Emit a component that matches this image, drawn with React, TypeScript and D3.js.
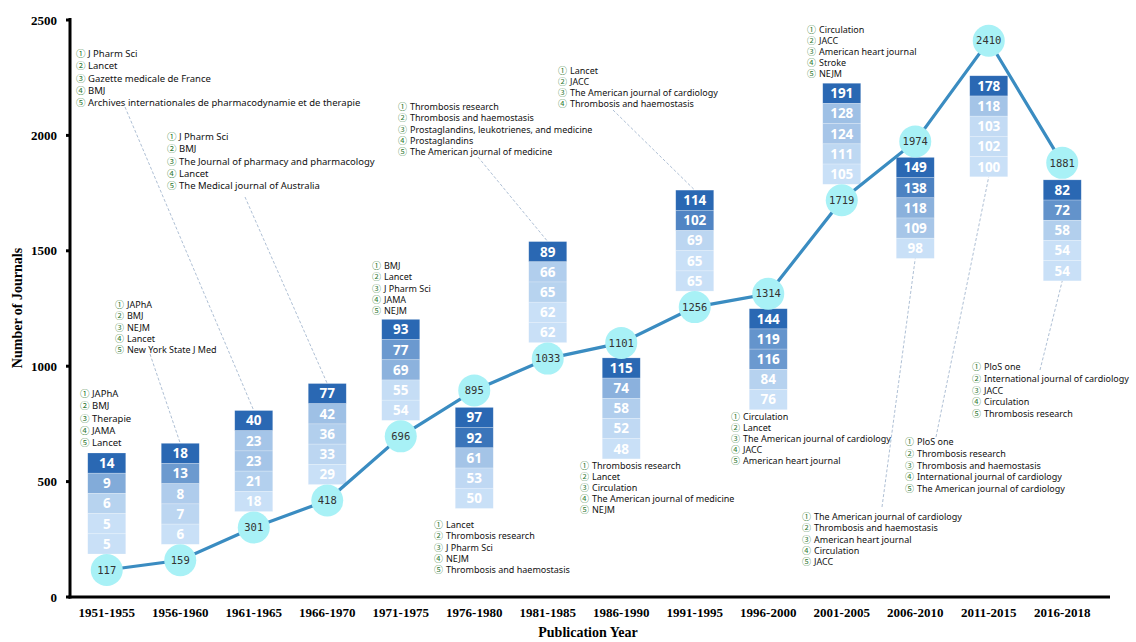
import React from "react";
import * as d3 from "d3";

const categories = [
  "1951-1955", "1956-1960", "1961-1965", "1966-1970", "1971-1975", "1976-1980", "1981-1985",
  "1986-1990", "1991-1995", "1996-2000", "2001-2005", "2006-2010", "2011-2015", "2016-2018",
];
const totals = [117, 159, 301, 418, 696, 895, 1033, 1101, 1256, 1314, 1719, 1974, 2410, 1881];
const topCounts = [
  [14, 9, 6, 5, 5],
  [18, 13, 8, 7, 6],
  [40, 23, 23, 21, 18],
  [77, 42, 36, 33, 29],
  [93, 77, 69, 55, 54],
  [97, 92, 61, 53, 50],
  [89, 66, 65, 62, 62],
  [115, 74, 58, 52, 48],
  [114, 102, 69, 65, 65],
  [144, 119, 116, 84, 76],
  [191, 128, 124, 111, 105],
  [149, 138, 118, 109, 98],
  [178, 118, 103, 102, 100],
  [82, 72, 58, 54, 54],
];
const topJournals = [
  ["JAPhA", "BMJ", "Therapie", "JAMA", "Lancet"],
  ["JAPhA", "BMJ", "NEJM", "Lancet", "New York State J Med"],
  ["J Pharm Sci", "Lancet", "Gazette medicale de France", "BMJ", "Archives internationales de pharmacodynamie et de therapie"],
  ["J Pharm Sci", "BMJ", "The Journal of pharmacy and pharmacology", "Lancet", "The Medical journal of Australia"],
  ["BMJ", "Lancet", "J Pharm Sci", "JAMA", "NEJM"],
  ["Lancet", "Thrombosis research", "J Pharm Sci", "NEJM", "Thrombosis and haemostasis"],
  ["Thrombosis research", "Thrombosis and haemostasis", "Prostaglandins, leukotrienes, and medicine", "Prostaglandins", "The American journal of medicine"],
  ["Thrombosis research", "Lancet", "Circulation", "The American journal of medicine", "NEJM"],
  ["Lancet", "JACC", "The American journal of cardiology", "Thrombosis and haemostasis"],
  ["Circulation", "Lancet", "The American journal of cardiology", "JACC", "American heart journal"],
  ["Circulation", "JACC", "American heart journal", "Stroke", "NEJM"],
  ["The American journal of cardiology", "Thrombosis and haemostasis", "American heart journal", "Circulation", "JACC"],
  ["PloS one", "Thrombosis research", "Thrombosis and haemostasis", "International journal of cardiology", "The American journal of cardiology"],
  ["PloS one", "International journal of cardiology", "JACC", "Circulation", "Thrombosis research"],
];
const yTicks = [0, 500, 1000, 1500, 2000, 2500];
const circled = ["\u2460", "\u2461", "\u2462", "\u2463", "\u2464"];

// layout (pixels) — kept separate from the data
const barSide = [-1, -1, -1, -1, -1, 1, -1, 1, -1, 1, -1, 1, 1, 1];
const barGap = [16, 16, 16, 16, 16, 17, 16, 15, 16, 15, 16, 16, 35, 17];
const listPos = [
  { x: 80, y: 394, sp: 12.1, fs: 10 },
  { x: 115, y: 305, sp: 11.3, fs: 9.5 },
  { x: 76, y: 54, sp: 12.1, fs: 10 },
  { x: 167, y: 137, sp: 12.1, fs: 10 },
  { x: 372, y: 266, sp: 11.2, fs: 9.5 },
  { x: 434, y: 525, sp: 11.3, fs: 9.5 },
  { x: 398, y: 107, sp: 11.3, fs: 9.5 },
  { x: 580, y: 466, sp: 11, fs: 9.5 },
  { x: 558, y: 71, sp: 11, fs: 9.5 },
  { x: 731, y: 417, sp: 11, fs: 9.5 },
  { x: 807, y: 30, sp: 11, fs: 9.5 },
  { x: 802, y: 517, sp: 11.3, fs: 9.5 },
  { x: 905, y: 442, sp: 11.7, fs: 9.5 },
  { x: 972, y: 367, sp: 11.7, fs: 9.5 },
];
const connectorStart: (number[] | null)[] = [
  null, [150, 354], [125, 107], [245, 197], null, null, [478, 157],
  null, [613, 110], null, null, [882, 507], [936, 437], [1040, 370],
];

const W = 1136;
const H = 642;
const x0 = 70;
const x1 = 1099;
const yBottom = 597;
const yTop = 20;
const cellH = 20.2;
const barW = 38;
const r = 16;

export default function App() {
  const x = d3.scaleBand<string>().domain(categories).range([x0, x1]).padding(0);
  const y = d3.scaleLinear().domain([0, 2500]).range([yBottom, yTop]);
  const cx = (i: number) => (x(categories[i]) as number) + x.bandwidth() / 2;

  const line = d3
    .line<number>()
    .x((_, i) => cx(i))
    .y((d) => y(d));

  const bars = categories.map((c, i) => {
    const vals = topCounts[i];
    const cy = y(totals[i]);
    const h = vals.length * cellH;
    const top = barSide[i] < 0 ? cy - barGap[i] - h : cy + barGap[i];
    const mn = d3.min(vals) as number;
    const mx = d3.max(vals) as number;
    const color = d3
      .scaleLinear<string>()
      .domain([mn, mx === mn ? mn + 1 : mx])
      .range(["#c9e0f7", "#2a68b3"])
      .interpolate(d3.interpolateRgb);
    return { i, vals, top, h, color };
  });

  const serif = "'Liberation Serif', 'Times New Roman', serif";
  const sans = "'Noto Sans', 'Open Sans', sans-serif";

  return (
    <svg
      width={W}
      height={H}
      viewBox={`0 0 ${W} ${H}`}
      style={{ position: "absolute", left: 0, top: 0, background: "#fff" }}
    >
      <rect x={0} y={0} width={W} height={H} fill="#fff" />

      {/* connectors */}
      {bars.map((b) => {
        const s = connectorStart[b.i];
        if (!s) return null;
        const ex = cx(b.i);
        const ey = barSide[b.i] < 0 ? b.top : b.top + b.h;
        return (
          <line
            key={"c" + b.i}
            x1={s[0]}
            y1={s[1]}
            x2={ex}
            y2={ey}
            stroke="#a5b8cf"
            strokeWidth={0.9}
            strokeDasharray="3,2"
          />
        );
      })}

      {/* stacked boxes */}
      {bars.map((b) => (
        <g key={"b" + b.i}>
          {b.vals.map((v, k) => (
            <g key={k}>
              <rect
                x={cx(b.i) - barW / 2}
                y={b.top + k * cellH}
                width={barW}
                height={cellH}
                fill={b.color(v)}
                stroke="#ffffff"
                strokeOpacity={0.35}
                strokeWidth={0.6}
              />
              <text
                x={cx(b.i)}
                y={b.top + k * cellH + cellH / 2}
                dy="0.36em"
                textAnchor="middle"
                fill="#ffffff"
                fontFamily="'Open Sans', sans-serif"
                fontWeight={700}
                fontSize={13.5}
              >
                {v}
              </text>
            </g>
          ))}
        </g>
      ))}

      {/* total line */}
      <path d={line(totals) as string} fill="none" stroke="#3a8cc1" strokeWidth={3.2} />
      {totals.map((t, i) => (
        <g key={"p" + i}>
          <circle cx={cx(i)} cy={y(t)} r={r} fill="#a8f1f6" />
          <text
            x={cx(i)}
            y={y(t)}
            dy="0.35em"
            textAnchor="middle"
            fill="#333"
            fontFamily="'DejaVu Sans Mono', monospace"
            fontSize={10.5}
          >
            {t}
          </text>
        </g>
      ))}

      {/* journal lists */}
      {topJournals.map((names, i) => {
        const p = listPos[i];
        return (
          <g key={"l" + i}>
            {names.map((n, k) => (
              <g key={k}>
                <text
                  x={p.x}
                  y={p.y + k * p.sp}
                  dy="0.35em"
                  fill="#2f7a33"
                  fontFamily="'Noto Sans CJK SC', 'DejaVu Sans', sans-serif"
                  fontSize={p.fs - 0.5}
                >
                  {circled[k]}
                </text>
                <text
                  x={p.x + 12}
                  y={p.y + k * p.sp}
                  dy="0.35em"
                  fill="#111"
                  fontFamily={sans}
                  fontSize={p.fs - 0.5}
                >
                  {n}
                </text>
              </g>
            ))}
          </g>
        );
      })}

      {/* axes */}
      <line x1={x0} y1={yTop - 2} x2={x0} y2={yBottom + 1.5} stroke="#000" strokeWidth={3} />
      <line x1={x0 - 1.5} y1={yBottom} x2={1110} y2={yBottom} stroke="#000" strokeWidth={3} />
      {yTicks.map((t) => (
        <g key={"yt" + t}>
          <line x1={x0 - 4} x2={x0} y1={y(t)} y2={y(t)} stroke="#000" strokeWidth={3} />
          <text
            x={57}
            y={y(t)}
            dy="0.35em"
            textAnchor="end"
            fontFamily={serif}
            fontWeight={700}
            fontSize={13}
            fill="#000"
          >
            {t}
          </text>
        </g>
      ))}
      {categories.map((c, i) => (
        <text
          key={"xt" + i}
          x={cx(i)}
          y={617}
          textAnchor="middle"
          fontFamily={serif}
          fontWeight={700}
          fontSize={13}
          fill="#000"
        >
          {c}
        </text>
      ))}
      <text
        x={588}
        y={637}
        textAnchor="middle"
        fontFamily={serif}
        fontWeight={700}
        fontSize={14}
        fill="#000"
      >
        Publication Year
      </text>
      <text
        transform="translate(22,308) rotate(-90)"
        textAnchor="middle"
        fontFamily={serif}
        fontWeight={700}
        fontSize={14}
        fill="#000"
      >
        Number of Journals
      </text>
    </svg>
  );
}
